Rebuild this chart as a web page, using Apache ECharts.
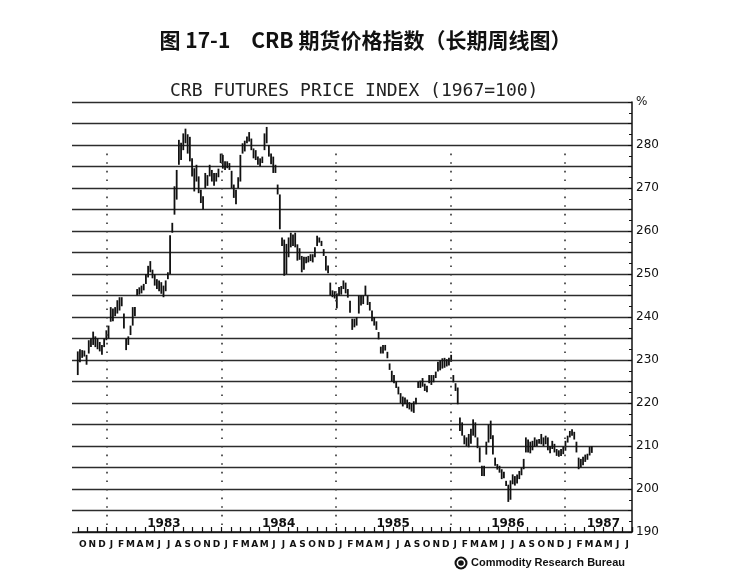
<!DOCTYPE html>
<html>
<head>
<meta charset="utf-8">
<script src="https://cdn.jsdelivr.net/npm/echarts@6/dist/echarts.min.js"></script>
<style>html,body{margin:0;padding:0;background:#fff}#c{width:731px;height:574px}</style>
</head>
<body>
<div id="c"></div>
<script>
// ---- data (weekly high/low) ----
var startDate = '1982-10-01';
var weekLows = [
226.5,229.5,230.5,230.8,228.9,231.5,233,233.5,233,232.5,
232,231.2,233,234.6,235,238.9,239,240.2,240.8,241.5,
242.5,237.3,232.3,233.5,235.8,238,240.2,245,245.2,245.5,
246.2,247.7,249.2,250.4,249,247.3,246.5,246,245.4,244.6,
246,248.8,250,259.6,263.8,267.3,275.4,276.5,278.8,280.4,
278,276.2,272.7,269.2,271.5,268.8,266.5,265,270,270.5,
272.7,271.5,270.5,271.5,272.5,275.8,274.5,274.2,274.6,274.2,
270,267.7,266.2,270,271.5,278,278.5,280.4,280.8,278.8,
276.9,276.5,275.4,275,275.8,278.8,280.4,277.3,275.5,273.5,
273.5,268.5,260.4,256.5,249.6,250,253.9,256.2,256.5,256.2,
253.1,253.3,250.4,251,252.5,252.7,253,252.7,253.9,256.5,
257.3,256.5,254.2,250.8,250.2,245,244.6,244.3,242,245,
245.2,246.5,245.5,244.5,241,237,237.6,238,240.8,242.7,
243,245,242.8,241.5,239,238,237,234.8,231.5,231.5,
232.2,230.4,227.7,225,224.6,223.5,222,220,219.2,219.7,
218.8,218.5,218,217.7,219.7,223.5,223.5,223.8,222.8,222.5,
224.6,224.2,224.8,225.8,227.3,227.6,228,228.2,228.5,228.7,
229.6,224.8,222.8,219.7,213.5,212.4,210.4,210,209.7,210.5,
212.4,212,209.5,206.2,203,203,208,210.8,211.6,208,
205.4,204.5,203.8,202.3,202.5,200.7,197,197.5,201.1,200.8,
201.3,202.3,203.2,204.6,208.5,208.5,208.3,209,209.8,210,
210.5,210.4,210,210.4,209,208.3,209.3,208.5,207.7,207.5,
207.7,208.1,208.9,210.8,212,212.4,211.5,208.5,204.6,205,
205.5,206.3,206.8,207.8,208.4
];
var weekHighs = [
232,232.5,232.3,232.2,231.2,234.6,235,236.6,235.5,235,
234.2,233.5,235,236.9,238,242.3,242,242.3,243.9,244.6,
244.6,240.8,235,235.5,238,242.3,242.3,246.5,246.9,247.3,
247.7,250,251.9,253,251,250,248.8,248.5,248.1,247.3,
248.5,250.4,259,261.9,270.4,274.2,281.2,280.5,282.7,283.8,
282.5,281.9,276.9,274.6,275.4,272.7,269.6,268.1,273.5,273,
275.4,274.2,273.5,273.5,274.5,278,277.7,276.2,276.2,275.8,
274,270.8,269.6,272.5,277.7,280.4,281,282,283,281.5,
279.2,278.8,277.3,276.9,277.3,282.7,284.2,280,278,277.3,
275.4,270.8,268.5,258.5,258,257,258.5,259.6,259.2,259.6,
256.9,256,254.2,254,254,254.2,254.6,254.6,256.2,258.9,
258.5,257.7,255.8,254.2,252,248,246.2,246,245.5,247,
247.2,248.5,248,246.5,243.8,239.6,239.6,240,245,245,
245,247.3,245,243.5,241.5,240,239,236.5,233.1,233.5,
233.5,231.9,229.2,227.5,226.5,225,223.8,222.3,221.5,221.3,
220.8,220.2,220,220.4,221.2,225,225.2,225.8,224.5,224,
226.5,226.5,226.5,227.3,229.6,230,230.4,230.5,230.2,230.5,
231.2,226.5,224.6,223.6,216.6,215.5,212.5,212,212.8,214,
216.2,215.5,212,209.7,205.4,205.4,211,215,215.9,212.5,
207.3,205.8,205.4,204.6,204,201.9,201,202,203.4,203,
203.4,204.2,205,207,212,211.5,211,211.2,212,211.5,
211.6,212.8,212,212.4,212,210,211.2,210.5,209.3,209,
209.3,209.9,211.2,212.4,213.5,213.9,213.3,211,207.3,207,
207.5,208,208.2,209.8,210
];
var yearStarts = [1983, 1984, 1985, 1986, 1987];
var yearLabels = ['1983', '1984', '1985', '1986', '1987'];
var yearLabelMonth = [6, 6, 6, 6, 4];   // month (from Jan) at which each year label sits
var monthBase = ['J','F','M','A','M','J','J','A','S','O','N','D'];
var monthLetters = ['O','N','D']
  .concat(monthBase, monthBase, monthBase, monthBase)
  .concat(['J','F','M','A','M','J','J']);
var priceTickTopLabel = '%';

// ---- helpers ----
function decYear(d) {
  var y = d.getUTCFullYear();
  var a = Date.UTC(y, 0, 1), b = Date.UTC(y + 1, 0, 1);
  return y + (d.getTime() - a) / (b - a);
}
var t0 = new Date(startDate + 'T00:00:00Z').getTime();
var bars = weekLows.map(function (lo, i) {
  var d = new Date(t0 + i * 7 * 86400000);
  return [decYear(d), lo, weekHighs[i]];
});

// layout
var W = 731, RIGHT = 99, TOP = 102, BOTTOM = 42;
var AXIS_LEFT = 78, GRIDLINE_LEFT = 72;
var X_MIN = 1982.75, X_MAX = 1987 + 7 / 12;
var pxPerYear = (W - RIGHT - AXIS_LEFT) / (X_MAX - X_MIN);
var X_MIN_PLOT = X_MIN - (AXIS_LEFT - GRIDLINE_LEFT) / pxPerYear;

var chart = echarts.init(document.getElementById('c'), null, {renderer: 'canvas'});
chart.setOption({
  backgroundColor: '#fff',
  animation: false,
  title: [
    {
      text: '图 17-1　CRB 期货价格指数（长期周线图）',
      left: 'center', top: 30, padding: 0,
      textStyle: {fontFamily: 'Noto Sans CJK SC', fontSize: 21, fontWeight: 'bold', color: '#111'}
    },
    {
      text: 'CRB FUTURES PRICE INDEX (1967=100)',
      left: 170, top: 82, padding: 0,
      textStyle: {fontFamily: 'DejaVu Sans Mono', fontSize: 18, fontWeight: 'normal', color: '#222'}
    }
  ],
  grid: [
    {left: GRIDLINE_LEFT, right: RIGHT, top: TOP, bottom: BOTTOM, containLabel: false},
    {left: AXIS_LEFT, right: RIGHT, top: TOP, bottom: BOTTOM, containLabel: false}
  ],
  xAxis: [
    {
      gridIndex: 0, type: 'value', min: X_MIN_PLOT, max: X_MAX, show: false,
      splitLine: {show: false}
    },
    {
      gridIndex: 1, type: 'category', data: monthLetters, position: 'bottom', boundaryGap: true,
      axisLine: {show: false}, axisTick: {show: false}, splitLine: {show: false},
      axisLabel: {interval: 0, margin: 8, fontSize: 9, fontWeight: 'bold',
        fontFamily: 'DejaVu Sans', color: '#111'}
    },
    {
      gridIndex: 1, type: 'value', min: X_MIN, max: X_MAX, interval: 1 / 12, position: 'bottom',
      axisLine: {show: true, lineStyle: {color: '#111', width: 1.5}},
      axisTick: {show: true, inside: true, length: 5, lineStyle: {color: '#111', width: 1.2}},
      splitLine: {show: false},
      axisLabel: {
        inside: true, margin: 2, fontSize: 12, fontWeight: 'bold',
        fontFamily: 'DejaVu Sans', color: '#111', showMinLabel: true, showMaxLabel: true,
        formatter: function (v) {
          for (var k = 0; k < yearStarts.length; k++) {
            if (Math.abs(v - (yearStarts[k] + yearLabelMonth[k] / 12)) < 0.02) return yearLabels[k];
          }
          return '';
        }
      }
    }
  ],
  yAxis: [
    {
      gridIndex: 0, type: 'value', position: 'right', min: 190, max: 290, interval: 5,
      axisLine: {show: true, lineStyle: {color: '#111', width: 1.5}},
      axisTick: {show: true, inside: true, length: 4, lineStyle: {color: '#111'}},
      minorTick: {show: true, splitNumber: 2, length: 3, lineStyle: {color: '#111'}},
      splitLine: {show: true, lineStyle: {color: '#2c2c2c', width: 1.3}},
      axisLabel: {
        margin: 4, fontSize: 12, fontFamily: 'DejaVu Sans', color: '#111',
        formatter: function (v) {
          if (v === 290) return priceTickTopLabel;
          return v % 10 === 0 ? String(v) : '';
        }
      }
    },
    {
      gridIndex: 1, type: 'value', min: 190, max: 290, show: false, splitLine: {show: false}
    }
  ],
  series: [{
    type: 'custom',
    xAxisIndex: 0, yAxisIndex: 0,
    data: bars,
    encode: {x: 0, y: [1, 2]},
    renderItem: function (params, api) {
      var p1 = api.coord([api.value(0), api.value(1)]);
      var p2 = api.coord([api.value(0), api.value(2)]);
      return {
        type: 'line',
        shape: {x1: p1[0], y1: p1[1], x2: p2[0], y2: p2[1]},
        style: {stroke: '#111', lineWidth: 1.8}
      };
    },
    markLine: {
      silent: true, symbol: ['none', 'none'], label: {show: false},
      lineStyle: {color: '#333', width: 1.6, type: [1.6, 7]},
      data: yearStarts.map(function (y) {
        return [{coord: [y, 278]}, {coord: [y, 190]}];
      })
    }
  }],
  graphic: [
    {type: 'circle', shape: {cx: 461, cy: 563, r: 6.5}, style: {fill: '#111'}},
    {type: 'circle', shape: {cx: 461, cy: 563, r: 3.6}, style: {fill: 'none', stroke: '#fff', lineWidth: 1.6}},
    {type: 'text', x: 471, y: 563,
      style: {text: 'Commodity Research Bureau', font: 'bold 11px "Liberation Sans"', fill: '#111',
        textAlign: 'left', textVerticalAlign: 'middle'}}
  ]
});
</script>
</body>
</html>
